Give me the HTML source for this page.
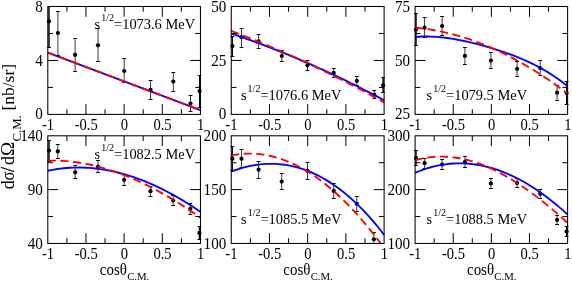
<!DOCTYPE html>
<html><head><meta charset="utf-8"><title>chart</title>
<style>html,body{margin:0;padding:0;background:#fff;overflow:hidden}body{width:572px;height:282px;font-family:"Liberation Serif",serif}</style></head>
<body>
<svg width="572" height="282" viewBox="0 0 572 282" style="display:block;will-change:transform">
<rect width="572" height="282" fill="#fff"/>
<g font-family="'Liberation Serif', serif" font-size="15" fill="#000">
<clipPath id="c0"><rect x="44.8" y="6.5" width="158.65" height="107.9"/></clipPath>
<g clip-path="url(#c0)">
<path d="M49 2.5 V47.5 M57.9 11.5 V55.5 M75.1 38.5 V71.5 M98 28.5 V61.5 M124.2 58.5 V82.5 M150.6 80.5 V99.5 M173.3 72.5 V91.5 M190.5 95.5 V111.5 M199.6 75.5 V107.5" stroke="#000" stroke-width="0.78" fill="none"/>
<path d="M47.1 2.5 h3.8 M47.1 47.5 h3.8 M56 11.5 h3.8 M56 55.5 h3.8 M73.2 38.5 h3.8 M73.2 71.5 h3.8 M96.1 28.5 h3.8 M96.1 61.5 h3.8 M122.3 58.5 h3.8 M122.3 82.5 h3.8 M148.7 80.5 h3.8 M148.7 99.5 h3.8 M171.4 72.5 h3.8 M171.4 91.5 h3.8 M188.6 95.5 h3.8 M188.6 111.5 h3.8 M197.7 75.5 h3.8 M197.7 107.5 h3.8" stroke="#000" stroke-width="1" fill="none"/>
<path d="M49 2 V47 M199.6 75 V107.5" stroke="#000" stroke-width="1.1" fill="none"/>
<circle cx="49" cy="21.3" r="2.1"/>
<circle cx="57.9" cy="33" r="2.1"/>
<circle cx="75.1" cy="54.8" r="2.1"/>
<circle cx="98" cy="45.3" r="2.1"/>
<circle cx="124.2" cy="71" r="2.1"/>
<circle cx="150.6" cy="89.8" r="2.1"/>
<circle cx="173.3" cy="81.6" r="2.1"/>
<circle cx="190.5" cy="103.5" r="2.1"/>
<circle cx="199.6" cy="91.1" r="2.1"/>
<path d="M47.8 52.56 L200.45 110.18" stroke="#0000ff" stroke-width="1.85" fill="none"/>
<path d="M47.8 52.56 L200.45 110.18" stroke="#ff0000" stroke-width="1.85" fill="none" stroke-dasharray="8.1 4.5"/>
</g>
<rect x="47.8" y="6.5" width="152.65" height="107.9" fill="none" stroke="#000" stroke-width="1.05"/>
<path d="M66.88 6.5 v5.2 M66.88 114.4 v-5.2 M85.96 6.5 v10.3 M85.96 114.4 v-10.3 M105.04 6.5 v5.2 M105.04 114.4 v-5.2 M124.12 6.5 v10.3 M124.12 114.4 v-10.3 M143.21 6.5 v5.2 M143.21 114.4 v-5.2 M162.29 6.5 v10.3 M162.29 114.4 v-10.3 M181.37 6.5 v5.2 M181.37 114.4 v-5.2 M47.8 33.48 h5.2 M200.45 33.48 h-5.2 M47.8 60.45 h10.3 M200.45 60.45 h-10.3 M47.8 87.43 h5.2 M200.45 87.43 h-5.2" stroke="#000" stroke-width="1" fill="none"/>
<text transform="translate(42.8 119.45) scale(0.934 1)" font-size="16.2" text-anchor="end">0</text>
<text transform="translate(42.8 65.7) scale(0.934 1)" font-size="16.2" text-anchor="end">4</text>
<text transform="translate(42.8 11.75) scale(0.934 1)" font-size="16.2" text-anchor="end">8</text>
<text transform="translate(48 130.1) scale(0.9 1)" text-anchor="middle" font-size="16.2">-1</text>
<text transform="translate(86.16 130.1) scale(0.9 1)" text-anchor="middle" font-size="16.2">-0.5</text>
<text transform="translate(124.32 130.1) scale(0.9 1)" text-anchor="middle" font-size="16.2">0</text>
<text transform="translate(162.49 130.1) scale(0.9 1)" text-anchor="middle" font-size="16.2">0.5</text>
<text transform="translate(200.65 130.1) scale(0.9 1)" text-anchor="middle" font-size="16.2">1</text>
<text x="94.6" y="29.0" font-size="14.42">s<tspan font-size="10" dy="-8" dx="1.1">1/2</tspan><tspan dy="8">=1073.6 MeV</tspan></text>
<clipPath id="c1"><rect x="228.25" y="6.5" width="158.85" height="107.9"/></clipPath>
<g clip-path="url(#c1)">
<path d="M232.4 36.5 V56.5 M241.5 28.5 V47.5 M258.6 34.5 V48.5 M281.8 50.5 V61.5 M307.5 60.5 V70.5 M333.7 68.5 V77.5 M356.8 76.5 V85.5 M374.3 90.5 V98.5 M383.1 77.5 V92.5" stroke="#000" stroke-width="0.78" fill="none"/>
<path d="M230.5 36.5 h3.8 M230.5 56.5 h3.8 M239.6 28.5 h3.8 M239.6 47.5 h3.8 M256.7 34.5 h3.8 M256.7 48.5 h3.8 M279.9 50.5 h3.8 M279.9 61.5 h3.8 M305.6 60.5 h3.8 M305.6 70.5 h3.8 M331.8 68.5 h3.8 M331.8 77.5 h3.8 M354.9 76.5 h3.8 M354.9 85.5 h3.8 M372.4 90.5 h3.8 M372.4 98.5 h3.8 M381.2 77.5 h3.8 M381.2 92.5 h3.8" stroke="#000" stroke-width="1" fill="none"/>
<path d="M232.4 36.1 V56.1 M383.1 77.8 V92.7" stroke="#000" stroke-width="1.1" fill="none"/>
<circle cx="232.4" cy="46.1" r="2.1"/>
<circle cx="241.5" cy="37.3" r="2.1"/>
<circle cx="258.6" cy="41.4" r="2.1"/>
<circle cx="281.8" cy="56" r="2.1"/>
<circle cx="307.5" cy="65.3" r="2.1"/>
<circle cx="333.7" cy="72.9" r="2.1"/>
<circle cx="356.8" cy="80.8" r="2.1"/>
<circle cx="374.3" cy="94.7" r="2.1"/>
<circle cx="383.1" cy="85.3" r="2.1"/>
<path d="M231.25 33.53 L234.43 34.61 L237.62 35.7 L240.8 36.81 L243.99 37.93 L247.17 39.06 L250.36 40.21 L253.54 41.36 L256.73 42.54 L259.91 43.72 L263.09 44.92 L266.28 46.13 L269.46 47.35 L272.65 48.59 L275.83 49.84 L279.02 51.1 L282.2 52.38 L285.38 53.67 L288.57 54.97 L291.75 56.29 L294.94 57.62 L298.12 58.96 L301.31 60.32 L304.49 61.69 L307.68 63.07 L310.86 64.47 L314.04 65.88 L317.23 67.3 L320.41 68.73 L323.6 70.18 L326.78 71.64 L329.97 73.12 L333.15 74.61 L336.33 76.11 L339.52 77.62 L342.7 79.15 L345.89 80.69 L349.07 82.24 L352.26 83.81 L355.44 85.39 L358.62 86.99 L361.81 88.59 L364.99 90.21 L368.18 91.85 L371.36 93.49 L374.55 95.15 L377.73 96.82 L380.92 98.51 L384.1 100.21" stroke="#0000ff" stroke-width="1.85" fill="none"/>
<path d="M231.25 30.95 L234.43 32.16 L237.62 33.38 L240.8 34.62 L243.99 35.87 L247.17 37.13 L250.36 38.4 L253.54 39.68 L256.73 40.97 L259.91 42.28 L263.09 43.6 L266.28 44.93 L269.46 46.27 L272.65 47.62 L275.83 48.98 L279.02 50.36 L282.2 51.75 L285.38 53.15 L288.57 54.56 L291.75 55.99 L294.94 57.42 L298.12 58.87 L301.31 60.33 L304.49 61.8 L307.68 63.28 L310.86 64.78 L314.04 66.28 L317.23 67.8 L320.41 69.33 L323.6 70.87 L326.78 72.43 L329.97 73.99 L333.15 75.57 L336.33 77.16 L339.52 78.76 L342.7 80.37 L345.89 82 L349.07 83.64 L352.26 85.28 L355.44 86.94 L358.62 88.62 L361.81 90.3 L364.99 92 L368.18 93.7 L371.36 95.42 L374.55 97.15 L377.73 98.9 L380.92 100.65 L384.1 102.42" stroke="#ff0000" stroke-width="1.85" fill="none" stroke-dasharray="8.1 4.5"/>
</g>
<rect x="231.25" y="6.5" width="152.85" height="107.9" fill="none" stroke="#000" stroke-width="1.05"/>
<path d="M250.36 6.5 v5.2 M250.36 114.4 v-5.2 M269.46 6.5 v10.3 M269.46 114.4 v-10.3 M288.57 6.5 v5.2 M288.57 114.4 v-5.2 M307.68 6.5 v10.3 M307.68 114.4 v-10.3 M326.78 6.5 v5.2 M326.78 114.4 v-5.2 M345.89 6.5 v10.3 M345.89 114.4 v-10.3 M364.99 6.5 v5.2 M364.99 114.4 v-5.2 M231.25 33.48 h5.2 M384.1 33.48 h-5.2 M231.25 60.45 h10.3 M384.1 60.45 h-10.3 M231.25 87.43 h5.2 M384.1 87.43 h-5.2" stroke="#000" stroke-width="1" fill="none"/>
<text transform="translate(226.25 119.45) scale(0.934 1)" font-size="16.2" text-anchor="end">0</text>
<text transform="translate(226.25 65.7) scale(0.934 1)" font-size="16.2" text-anchor="end">25</text>
<text transform="translate(226.25 11.75) scale(0.934 1)" font-size="16.2" text-anchor="end">50</text>
<text transform="translate(231.45 130.1) scale(0.9 1)" text-anchor="middle" font-size="16.2">-1</text>
<text transform="translate(269.66 130.1) scale(0.9 1)" text-anchor="middle" font-size="16.2">-0.5</text>
<text transform="translate(307.88 130.1) scale(0.9 1)" text-anchor="middle" font-size="16.2">0</text>
<text transform="translate(346.09 130.1) scale(0.9 1)" text-anchor="middle" font-size="16.2">0.5</text>
<text transform="translate(384.3 130.1) scale(0.9 1)" text-anchor="middle" font-size="16.2">1</text>
<text x="240.9" y="99.8" font-size="14.42">s<tspan font-size="10" dy="-8" dx="1.1">1/2</tspan><tspan dy="8">=1076.6 MeV</tspan></text>
<clipPath id="c2"><rect x="412.1" y="6.5" width="158.5" height="107.9"/></clipPath>
<g clip-path="url(#c2)">
<path d="M416 13.5 V45.5 M424.6 17.5 V37.5 M442.1 16.5 V35.5 M464.9 47.5 V64.5 M490.9 52.5 V68.5 M517.1 61.5 V76.5 M540.2 60.5 V75.5 M557.1 85.5 V100.5 M566.6 81.5 V104.5" stroke="#000" stroke-width="0.78" fill="none"/>
<path d="M414.1 13.5 h3.8 M414.1 45.5 h3.8 M422.7 17.5 h3.8 M422.7 37.5 h3.8 M440.2 16.5 h3.8 M440.2 35.5 h3.8 M463 47.5 h3.8 M463 64.5 h3.8 M489 52.5 h3.8 M489 68.5 h3.8 M515.2 61.5 h3.8 M515.2 76.5 h3.8 M538.3 60.5 h3.8 M538.3 75.5 h3.8 M555.2 85.5 h3.8 M555.2 100.5 h3.8 M564.7 81.5 h3.8 M564.7 104.5 h3.8" stroke="#000" stroke-width="1" fill="none"/>
<path d="M416 13.9 V45.6 M566.6 81.5 V104.3" stroke="#000" stroke-width="1.1" fill="none"/>
<circle cx="416" cy="29.5" r="2.1"/>
<circle cx="424.6" cy="27.7" r="2.1"/>
<circle cx="442.1" cy="26" r="2.1"/>
<circle cx="464.9" cy="55.9" r="2.1"/>
<circle cx="490.9" cy="60.6" r="2.1"/>
<circle cx="517.1" cy="68.8" r="2.1"/>
<circle cx="540.2" cy="68" r="2.1"/>
<circle cx="557.1" cy="92.7" r="2.1"/>
<circle cx="566.6" cy="92.9" r="2.1"/>
<path d="M415.1 36.98 L418.28 36.71 L421.45 36.54 L424.63 36.46 L427.81 36.47 L430.99 36.55 L434.16 36.71 L437.34 36.93 L440.52 37.22 L443.69 37.57 L446.87 37.98 L450.05 38.44 L453.23 38.94 L456.4 39.5 L459.58 40.09 L462.76 40.73 L465.93 41.41 L469.11 42.12 L472.29 42.87 L475.46 43.65 L478.64 44.46 L481.82 45.31 L485 46.19 L488.17 47.1 L491.35 48.04 L494.53 49.01 L497.7 50.02 L500.88 51.07 L504.06 52.15 L507.24 53.27 L510.41 54.43 L513.59 55.63 L516.77 56.88 L519.94 58.17 L523.12 59.52 L526.3 60.92 L529.48 62.38 L532.65 63.91 L535.83 65.5 L539.01 67.17 L542.18 68.91 L545.36 70.74 L548.54 72.65 L551.71 74.66 L554.89 76.78 L558.07 79 L561.25 81.33 L564.42 83.79 L567.6 86.37" stroke="#0000ff" stroke-width="1.85" fill="none"/>
<path d="M415.1 27.72 L418.28 28.02 L421.45 28.36 L424.63 28.76 L427.81 29.2 L430.99 29.69 L434.16 30.23 L437.34 30.81 L440.52 31.44 L443.69 32.12 L446.87 32.84 L450.05 33.61 L453.23 34.43 L456.4 35.3 L459.58 36.21 L462.76 37.16 L465.93 38.16 L469.11 39.21 L472.29 40.31 L475.46 41.44 L478.64 42.63 L481.82 43.86 L485 45.13 L488.17 46.45 L491.35 47.81 L494.53 49.22 L497.7 50.67 L500.88 52.17 L504.06 53.71 L507.24 55.29 L510.41 56.92 L513.59 58.6 L516.77 60.31 L519.94 62.07 L523.12 63.87 L526.3 65.72 L529.48 67.6 L532.65 69.53 L535.83 71.51 L539.01 73.52 L542.18 75.58 L545.36 77.68 L548.54 79.82 L551.71 82.01 L554.89 84.23 L558.07 86.5 L561.25 88.81 L564.42 91.16 L567.6 93.55" stroke="#ff0000" stroke-width="1.85" fill="none" stroke-dasharray="8.1 4.5"/>
</g>
<rect x="415.1" y="6.5" width="152.5" height="107.9" fill="none" stroke="#000" stroke-width="1.05"/>
<path d="M434.16 6.5 v5.2 M434.16 114.4 v-5.2 M453.23 6.5 v10.3 M453.23 114.4 v-10.3 M472.29 6.5 v5.2 M472.29 114.4 v-5.2 M491.35 6.5 v10.3 M491.35 114.4 v-10.3 M510.41 6.5 v5.2 M510.41 114.4 v-5.2 M529.48 6.5 v10.3 M529.48 114.4 v-10.3 M548.54 6.5 v5.2 M548.54 114.4 v-5.2 M415.1 33.48 h5.2 M567.6 33.48 h-5.2 M415.1 60.45 h10.3 M567.6 60.45 h-10.3 M415.1 87.43 h5.2 M567.6 87.43 h-5.2" stroke="#000" stroke-width="1" fill="none"/>
<text transform="translate(410.1 119.45) scale(0.934 1)" font-size="16.2" text-anchor="end">25</text>
<text transform="translate(410.1 65.7) scale(0.934 1)" font-size="16.2" text-anchor="end">50</text>
<text transform="translate(410.1 11.75) scale(0.934 1)" font-size="16.2" text-anchor="end">75</text>
<text transform="translate(415.3 130.1) scale(0.9 1)" text-anchor="middle" font-size="16.2">-1</text>
<text transform="translate(453.43 130.1) scale(0.9 1)" text-anchor="middle" font-size="16.2">-0.5</text>
<text transform="translate(491.55 130.1) scale(0.9 1)" text-anchor="middle" font-size="16.2">0</text>
<text transform="translate(529.68 130.1) scale(0.9 1)" text-anchor="middle" font-size="16.2">0.5</text>
<text transform="translate(567.8 130.1) scale(0.9 1)" text-anchor="middle" font-size="16.2">1</text>
<text x="426.6" y="99.9" font-size="14.42">s<tspan font-size="10" dy="-8" dx="1.1">1/2</tspan><tspan dy="8">=1079.5 MeV</tspan></text>
<clipPath id="c3"><rect x="44.8" y="135.8" width="158.65" height="107.65"/></clipPath>
<g clip-path="url(#c3)">
<path d="M49 140.5 V161.5 M57.8 144.5 V158.5 M75.2 165.5 V178.5 M98 160.5 V172.5 M124.2 174.5 V185.5 M150.5 186.5 V196.5 M173.2 195.5 V205.5 M190.3 203.5 V214.5 M199.4 226.5 V239.5" stroke="#000" stroke-width="0.78" fill="none"/>
<path d="M47.1 140.5 h3.8 M47.1 161.5 h3.8 M55.9 144.5 h3.8 M55.9 158.5 h3.8 M73.3 165.5 h3.8 M73.3 178.5 h3.8 M96.1 160.5 h3.8 M96.1 172.5 h3.8 M122.3 174.5 h3.8 M122.3 185.5 h3.8 M148.6 186.5 h3.8 M148.6 196.5 h3.8 M171.3 195.5 h3.8 M171.3 205.5 h3.8 M188.4 203.5 h3.8 M188.4 214.5 h3.8 M197.5 226.5 h3.8 M197.5 239.5 h3.8" stroke="#000" stroke-width="1" fill="none"/>
<path d="M49 140.3 V161 M199.4 226.2 V239.9" stroke="#000" stroke-width="1.1" fill="none"/>
<circle cx="49" cy="150.5" r="2.1"/>
<circle cx="57.8" cy="151.4" r="2.1"/>
<circle cx="75.2" cy="172.3" r="2.1"/>
<circle cx="98" cy="166.6" r="2.1"/>
<circle cx="124.2" cy="179.8" r="2.1"/>
<circle cx="150.5" cy="191.2" r="2.1"/>
<circle cx="173.2" cy="200.5" r="2.1"/>
<circle cx="190.3" cy="208.9" r="2.1"/>
<circle cx="199.4" cy="232.9" r="2.1"/>
<path d="M47.8 170.74 L50.98 170.1 L54.16 169.54 L57.34 169.04 L60.52 168.62 L63.7 168.27 L66.88 167.99 L70.06 167.77 L73.24 167.63 L76.42 167.55 L79.6 167.54 L82.78 167.6 L85.96 167.72 L89.14 167.91 L92.32 168.16 L95.5 168.48 L98.68 168.86 L101.86 169.31 L105.04 169.82 L108.22 170.39 L111.4 171.03 L114.58 171.72 L117.76 172.48 L120.94 173.3 L124.12 174.17 L127.31 175.11 L130.49 176.11 L133.67 177.16 L136.85 178.27 L140.03 179.44 L143.21 180.67 L146.39 181.95 L149.57 183.28 L152.75 184.68 L155.93 186.12 L159.11 187.62 L162.29 189.18 L165.47 190.79 L168.65 192.45 L171.83 194.16 L175.01 195.92 L178.19 197.74 L181.37 199.6 L184.55 201.51 L187.73 203.48 L190.91 205.49 L194.09 207.55 L197.27 209.66 L200.45 211.81" stroke="#0000ff" stroke-width="1.85" fill="none"/>
<path d="M47.8 160.6 L50.98 160.55 L54.16 160.56 L57.34 160.63 L60.52 160.76 L63.7 160.95 L66.88 161.2 L70.06 161.51 L73.24 161.87 L76.42 162.29 L79.6 162.77 L82.78 163.3 L85.96 163.89 L89.14 164.53 L92.32 165.23 L95.5 165.99 L98.68 166.79 L101.86 167.65 L105.04 168.56 L108.22 169.53 L111.4 170.54 L114.58 171.61 L117.76 172.72 L120.94 173.89 L124.12 175.1 L127.31 176.37 L130.49 177.68 L133.67 179.04 L136.85 180.45 L140.03 181.9 L143.21 183.4 L146.39 184.95 L149.57 186.54 L152.75 188.18 L155.93 189.86 L159.11 191.59 L162.29 193.35 L165.47 195.16 L168.65 197.02 L171.83 198.91 L175.01 200.85 L178.19 202.82 L181.37 204.84 L184.55 206.9 L187.73 208.99 L190.91 211.13 L194.09 213.3 L197.27 215.51 L200.45 217.75" stroke="#ff0000" stroke-width="1.85" fill="none" stroke-dasharray="8.1 4.5"/>
</g>
<rect x="47.8" y="135.8" width="152.65" height="107.65" fill="none" stroke="#000" stroke-width="1.05"/>
<path d="M66.88 135.8 v5.2 M66.88 243.45 v-5.2 M85.96 135.8 v10.3 M85.96 243.45 v-10.3 M105.04 135.8 v5.2 M105.04 243.45 v-5.2 M124.12 135.8 v10.3 M124.12 243.45 v-10.3 M143.21 135.8 v5.2 M143.21 243.45 v-5.2 M162.29 135.8 v10.3 M162.29 243.45 v-10.3 M181.37 135.8 v5.2 M181.37 243.45 v-5.2 M47.8 162.71 h5.2 M200.45 162.71 h-5.2 M47.8 189.62 h10.3 M200.45 189.62 h-10.3 M47.8 216.54 h5.2 M200.45 216.54 h-5.2" stroke="#000" stroke-width="1" fill="none"/>
<text transform="translate(42.8 248.55) scale(0.934 1)" font-size="16.2" text-anchor="end">40</text>
<text transform="translate(42.8 194.97) scale(0.934 1)" font-size="16.2" text-anchor="end">90</text>
<text transform="translate(42.8 141.15) scale(0.934 1)" font-size="16.2" text-anchor="end">140</text>
<text transform="translate(48 259.1) scale(0.9 1)" text-anchor="middle" font-size="16.2">-1</text>
<text transform="translate(86.16 259.1) scale(0.9 1)" text-anchor="middle" font-size="16.2">-0.5</text>
<text transform="translate(124.32 259.1) scale(0.9 1)" text-anchor="middle" font-size="16.2">0</text>
<text transform="translate(162.49 259.1) scale(0.9 1)" text-anchor="middle" font-size="16.2">0.5</text>
<text transform="translate(200.65 259.1) scale(0.9 1)" text-anchor="middle" font-size="16.2">1</text>
<text x="94.6" y="158.7" font-size="14.42">s<tspan font-size="10" dy="-8" dx="1.1">1/2</tspan><tspan dy="8">=1082.5 MeV</tspan></text>
<text transform="translate(124.53 274.7) scale(0.945 1)" text-anchor="middle" font-size="15.8">cosθ<tspan font-size="11.4" dy="5.7" dx="0.3">C.M.</tspan></text>
<clipPath id="c4"><rect x="228.25" y="135.8" width="158.85" height="107.65"/></clipPath>
<g clip-path="url(#c4)">
<path d="M232.4 146.5 V170.5 M241.5 149.5 V167.5 M258.6 161.5 V178.5 M281.7 173.5 V189.5 M307.5 162.5 V179.5 M333.7 183.5 V198.5 M356.8 196.5 V211.5 M373.9 232.5 V246.5" stroke="#000" stroke-width="0.78" fill="none"/>
<path d="M230.5 146.5 h3.8 M230.5 170.5 h3.8 M239.6 149.5 h3.8 M239.6 167.5 h3.8 M256.7 161.5 h3.8 M256.7 178.5 h3.8 M279.8 173.5 h3.8 M279.8 189.5 h3.8 M305.6 162.5 h3.8 M305.6 179.5 h3.8 M331.8 183.5 h3.8 M331.8 198.5 h3.8 M354.9 196.5 h3.8 M354.9 211.5 h3.8 M372 232.5 h3.8 M372 246.5 h3.8" stroke="#000" stroke-width="1" fill="none"/>
<path d="M232.4 146.1 V170.6" stroke="#000" stroke-width="1.1" fill="none"/>
<circle cx="232.4" cy="158.7" r="2.1"/>
<circle cx="241.5" cy="158.7" r="2.1"/>
<circle cx="258.6" cy="169.7" r="2.1"/>
<circle cx="281.7" cy="181.6" r="2.1"/>
<circle cx="307.5" cy="170.9" r="2.1"/>
<circle cx="333.7" cy="190.9" r="2.1"/>
<circle cx="356.8" cy="203.8" r="2.1"/>
<circle cx="373.9" cy="239.3" r="2.1"/>
<path d="M231.25 171.56 L234.43 170.38 L237.62 169.3 L240.8 168.32 L243.99 167.43 L247.17 166.63 L250.36 165.93 L253.54 165.33 L256.73 164.83 L259.91 164.43 L263.09 164.13 L266.28 163.93 L269.46 163.83 L272.65 163.84 L275.83 163.95 L279.02 164.16 L282.2 164.48 L285.38 164.9 L288.57 165.43 L291.75 166.07 L294.94 166.81 L298.12 167.67 L301.31 168.63 L304.49 169.71 L307.68 170.89 L310.86 172.19 L314.04 173.61 L317.23 175.13 L320.41 176.77 L323.6 178.52 L326.78 180.4 L329.97 182.38 L333.15 184.49 L336.33 186.71 L339.52 189.06 L342.7 191.52 L345.89 194.1 L349.07 196.81 L352.26 199.64 L355.44 202.59 L358.62 205.66 L361.81 208.86 L364.99 212.19 L368.18 215.64 L371.36 219.21 L374.55 222.92 L377.73 226.76 L380.92 230.72 L384.1 234.81" stroke="#0000ff" stroke-width="1.85" fill="none"/>
<path d="M231.25 155.44 L234.43 154.86 L237.62 154.39 L240.8 154.03 L243.99 153.78 L247.17 153.64 L250.36 153.62 L253.54 153.7 L256.73 153.89 L259.91 154.2 L263.09 154.61 L266.28 155.13 L269.46 155.76 L272.65 156.5 L275.83 157.35 L279.02 158.3 L282.2 159.36 L285.38 160.53 L288.57 161.8 L291.75 163.19 L294.94 164.67 L298.12 166.27 L301.31 167.96 L304.49 169.77 L307.68 171.68 L310.86 173.69 L314.04 175.81 L317.23 178.03 L320.41 180.35 L323.6 182.78 L326.78 185.31 L329.97 187.94 L333.15 190.68 L336.33 193.51 L339.52 196.45 L342.7 199.49 L345.89 202.64 L349.07 205.88 L352.26 209.22 L355.44 212.66 L358.62 216.2 L361.81 219.85 L364.99 223.59 L368.18 227.42 L371.36 231.36 L374.55 235.4 L377.73 239.53 L380.92 243.76 L384.1 248.09" stroke="#ff0000" stroke-width="1.85" fill="none" stroke-dasharray="8.1 4.5"/>
</g>
<rect x="231.25" y="135.8" width="152.85" height="107.65" fill="none" stroke="#000" stroke-width="1.05"/>
<path d="M250.36 135.8 v5.2 M250.36 243.45 v-5.2 M269.46 135.8 v10.3 M269.46 243.45 v-10.3 M288.57 135.8 v5.2 M288.57 243.45 v-5.2 M307.68 135.8 v10.3 M307.68 243.45 v-10.3 M326.78 135.8 v5.2 M326.78 243.45 v-5.2 M345.89 135.8 v10.3 M345.89 243.45 v-10.3 M364.99 135.8 v5.2 M364.99 243.45 v-5.2 M231.25 162.71 h5.2 M384.1 162.71 h-5.2 M231.25 189.62 h10.3 M384.1 189.62 h-10.3 M231.25 216.54 h5.2 M384.1 216.54 h-5.2" stroke="#000" stroke-width="1" fill="none"/>
<text transform="translate(226.25 248.55) scale(0.934 1)" font-size="16.2" text-anchor="end">100</text>
<text transform="translate(226.25 194.97) scale(0.934 1)" font-size="16.2" text-anchor="end">150</text>
<text transform="translate(226.25 141.15) scale(0.934 1)" font-size="16.2" text-anchor="end">200</text>
<text transform="translate(231.45 259.1) scale(0.9 1)" text-anchor="middle" font-size="16.2">-1</text>
<text transform="translate(269.66 259.1) scale(0.9 1)" text-anchor="middle" font-size="16.2">-0.5</text>
<text transform="translate(307.88 259.1) scale(0.9 1)" text-anchor="middle" font-size="16.2">0</text>
<text transform="translate(346.09 259.1) scale(0.9 1)" text-anchor="middle" font-size="16.2">0.5</text>
<text transform="translate(384.3 259.1) scale(0.9 1)" text-anchor="middle" font-size="16.2">1</text>
<text x="241.0" y="223.9" font-size="14.42">s<tspan font-size="10" dy="-8" dx="1.1">1/2</tspan><tspan dy="8">=1085.5 MeV</tspan></text>
<text transform="translate(308.07 274.7) scale(0.945 1)" text-anchor="middle" font-size="15.8">cosθ<tspan font-size="11.4" dy="5.7" dx="0.3">C.M.</tspan></text>
<clipPath id="c5"><rect x="412.1" y="135.8" width="158.5" height="107.65"/></clipPath>
<g clip-path="url(#c5)">
<path d="M416 150.5 V165.5 M424.6 158.5 V168.5 M442.1 159.5 V169.5 M465 156.5 V167.5 M490.9 178.5 V188.5 M517.1 178.5 V187.5 M540.2 189.5 V198.5 M557.1 215.5 V224.5 M566.6 226.5 V236.5" stroke="#000" stroke-width="0.78" fill="none"/>
<path d="M414.1 150.5 h3.8 M414.1 165.5 h3.8 M422.7 158.5 h3.8 M422.7 168.5 h3.8 M440.2 159.5 h3.8 M440.2 169.5 h3.8 M463.1 156.5 h3.8 M463.1 167.5 h3.8 M489 178.5 h3.8 M489 188.5 h3.8 M515.2 178.5 h3.8 M515.2 187.5 h3.8 M538.3 189.5 h3.8 M538.3 198.5 h3.8 M555.2 215.5 h3.8 M555.2 224.5 h3.8 M564.7 226.5 h3.8 M564.7 236.5 h3.8" stroke="#000" stroke-width="1" fill="none"/>
<path d="M416 150.5 V165.3 M566.6 226.2 V236.7" stroke="#000" stroke-width="1.1" fill="none"/>
<circle cx="416" cy="158" r="2.1"/>
<circle cx="424.6" cy="163.2" r="2.1"/>
<circle cx="442.1" cy="164.5" r="2.1"/>
<circle cx="465" cy="161.8" r="2.1"/>
<circle cx="490.9" cy="183.4" r="2.1"/>
<circle cx="517.1" cy="183" r="2.1"/>
<circle cx="540.2" cy="193.8" r="2.1"/>
<circle cx="557.1" cy="219.8" r="2.1"/>
<circle cx="566.6" cy="231.5" r="2.1"/>
<path d="M415.1 172.81 L418.28 171.5 L421.45 170.28 L424.63 169.17 L427.81 168.15 L430.99 167.24 L434.16 166.42 L437.34 165.7 L440.52 165.08 L443.69 164.55 L446.87 164.12 L450.05 163.78 L453.23 163.54 L456.4 163.4 L459.58 163.35 L462.76 163.4 L465.93 163.53 L469.11 163.76 L472.29 164.09 L475.46 164.5 L478.64 165.01 L481.82 165.61 L485 166.3 L488.17 167.08 L491.35 167.95 L494.53 168.91 L497.7 169.96 L500.88 171.09 L504.06 172.32 L507.24 173.63 L510.41 175.03 L513.59 176.51 L516.77 178.08 L519.94 179.74 L523.12 181.48 L526.3 183.31 L529.48 185.22 L532.65 187.21 L535.83 189.29 L539.01 191.45 L542.18 193.69 L545.36 196.02 L548.54 198.42 L551.71 200.91 L554.89 203.48 L558.07 206.13 L561.25 208.85 L564.42 211.66 L567.6 214.54" stroke="#0000ff" stroke-width="1.85" fill="none"/>
<path d="M415.1 160.31 L418.28 159.44 L421.45 158.69 L424.63 158.06 L427.81 157.54 L430.99 157.13 L434.16 156.84 L437.34 156.65 L440.52 156.57 L443.69 156.6 L446.87 156.73 L450.05 156.96 L453.23 157.3 L456.4 157.73 L459.58 158.26 L462.76 158.89 L465.93 159.61 L469.11 160.43 L472.29 161.34 L475.46 162.33 L478.64 163.42 L481.82 164.59 L485 165.85 L488.17 167.18 L491.35 168.6 L494.53 170.1 L497.7 171.68 L500.88 173.34 L504.06 175.07 L507.24 176.87 L510.41 178.74 L513.59 180.69 L516.77 182.7 L519.94 184.78 L523.12 186.93 L526.3 189.14 L529.48 191.41 L532.65 193.74 L535.83 196.13 L539.01 198.57 L542.18 201.07 L545.36 203.63 L548.54 206.23 L551.71 208.89 L554.89 211.6 L558.07 214.35 L561.25 217.15 L564.42 219.99 L567.6 222.88" stroke="#ff0000" stroke-width="1.85" fill="none" stroke-dasharray="8.1 4.5"/>
</g>
<rect x="415.1" y="135.8" width="152.5" height="107.65" fill="none" stroke="#000" stroke-width="1.05"/>
<path d="M434.16 135.8 v5.2 M434.16 243.45 v-5.2 M453.23 135.8 v10.3 M453.23 243.45 v-10.3 M472.29 135.8 v5.2 M472.29 243.45 v-5.2 M491.35 135.8 v10.3 M491.35 243.45 v-10.3 M510.41 135.8 v5.2 M510.41 243.45 v-5.2 M529.48 135.8 v10.3 M529.48 243.45 v-10.3 M548.54 135.8 v5.2 M548.54 243.45 v-5.2 M415.1 162.71 h5.2 M567.6 162.71 h-5.2 M415.1 189.62 h10.3 M567.6 189.62 h-10.3 M415.1 216.54 h5.2 M567.6 216.54 h-5.2" stroke="#000" stroke-width="1" fill="none"/>
<text transform="translate(410.1 248.55) scale(0.934 1)" font-size="16.2" text-anchor="end">100</text>
<text transform="translate(410.1 194.97) scale(0.934 1)" font-size="16.2" text-anchor="end">200</text>
<text transform="translate(410.1 141.15) scale(0.934 1)" font-size="16.2" text-anchor="end">300</text>
<text transform="translate(415.3 259.1) scale(0.9 1)" text-anchor="middle" font-size="16.2">-1</text>
<text transform="translate(453.43 259.1) scale(0.9 1)" text-anchor="middle" font-size="16.2">-0.5</text>
<text transform="translate(491.55 259.1) scale(0.9 1)" text-anchor="middle" font-size="16.2">0</text>
<text transform="translate(529.68 259.1) scale(0.9 1)" text-anchor="middle" font-size="16.2">0.5</text>
<text transform="translate(567.8 259.1) scale(0.9 1)" text-anchor="middle" font-size="16.2">1</text>
<text x="426.6" y="224.0" font-size="14.42">s<tspan font-size="10" dy="-8" dx="1.1">1/2</tspan><tspan dy="8">=1088.5 MeV</tspan></text>
<text transform="translate(491.75 274.7) scale(0.945 1)" text-anchor="middle" font-size="15.8">cosθ<tspan font-size="11.4" dy="5.7" dx="0.3">C.M.</tspan></text>
<g transform="translate(13.9,0) rotate(-90)" font-size="18"><text x="-189.3" y="0">d</text><text transform="translate(-180.5,0) scale(0.92,1)">σ</text><text x="-171.9" y="0" stroke="#000" stroke-width="0.35">/</text><text x="-164.9" y="0">d</text><text transform="translate(-155.9,0) scale(1.06,1)">Ω</text><text x="-141.5" y="6.9" font-size="12.8">C.M.</text><text x="-110.6" y="0" font-size="17.5">[nb/sr]</text></g>
</g></svg>
</body></html>
